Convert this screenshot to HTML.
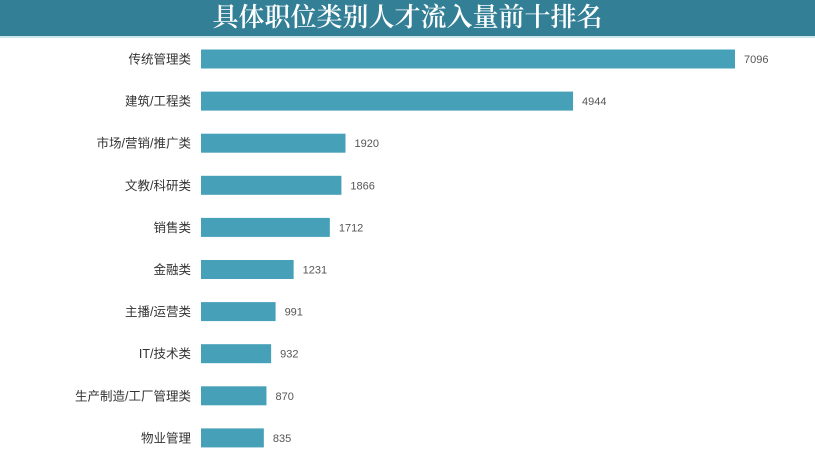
<!DOCTYPE html>
<html><head><meta charset="utf-8"><style>
body{margin:0;width:815px;height:469px;background:#fff;overflow:hidden;font-family:"Liberation Sans","Noto Sans CJK SC",sans-serif}
#title{position:absolute;left:0;top:0;width:815px;height:36px;background:#337f96;color:#fff;font-family:"Liberation Serif","Noto Serif CJK SC",serif;font-size:26px;font-weight:600;text-align:center;line-height:36px;border-bottom:2px solid #cfe5ec}
svg{position:absolute;left:0;top:0}
</style></head><body>
<div id="title">具体职位类别人才流入量前十排名</div>
<svg id="chart" width="815" height="469"></svg>
<script>
const categories=["传统管理类","建筑/工程类","市场/营销/推广类","文教/科研类","销售类","金融类","主播/运营类","IT/技术类","生产制造/工厂管理类","物业管理"];
const values=[7096,4944,1920,1866,1712,1231,991,932,870,835];
const x0=201,xScale=v=>x0+v*(534/7096);
const yC=i=>59+i*42.1;
const svg=document.getElementById('chart');
const NS='http://www.w3.org/2000/svg';
categories.forEach((c,i)=>{
  const r=document.createElementNS(NS,'rect');
  r.setAttribute('x',x0);r.setAttribute('y',yC(i)-9.5);
  r.setAttribute('width',xScale(values[i])-x0);r.setAttribute('height',19);
  r.setAttribute('fill','#46a0b8');
  
  
  svg.appendChild(r);
  const t=document.createElementNS(NS,'text');
  t.setAttribute('x',191);t.setAttribute('y',yC(i)+4.5);
  t.setAttribute('text-anchor','end');t.setAttribute('font-size','12.5');t.setAttribute('fill','#333');
  t.textContent=c;
  
  
  svg.appendChild(t);
  const v=document.createElementNS(NS,'text');
  v.setAttribute('x',xScale(values[i])+9);v.setAttribute('y',yC(i)+4);
  v.setAttribute('font-size','11');v.setAttribute('fill','#555');
  v.textContent=values[i];
  
  
  svg.appendChild(v);
});
</script>
</body></html>
